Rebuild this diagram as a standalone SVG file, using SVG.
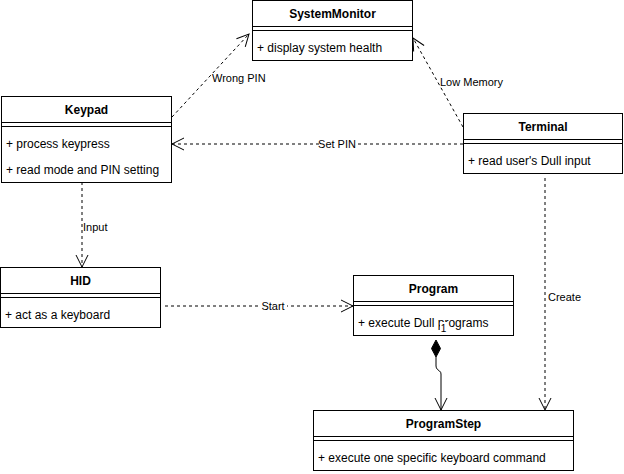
<svg xmlns="http://www.w3.org/2000/svg" width="624" height="474" viewBox="0 0 624 474">
<style>
.box{fill:#fff;stroke:#000;stroke-width:1}
.sep{stroke:#000;stroke-width:1}
.t{font-family:"Liberation Sans",Arial,sans-serif;font-size:12px;font-weight:bold;text-anchor:middle;fill:#000}
.a{font-family:"Liberation Sans",Arial,sans-serif;font-size:12px;fill:#000}
.l{font-family:"Liberation Sans",Arial,sans-serif;font-size:11px;fill:#000}
.dash{fill:none;stroke:#000;stroke-width:1;stroke-dasharray:3 3;marker-end:url(#open)}
.solid{fill:none;stroke:#000;stroke-width:1;marker-end:url(#open)}
</style>
<defs>
<marker id="open" markerUnits="userSpaceOnUse" markerWidth="14" markerHeight="14" refX="12" refY="6" orient="auto" overflow="visible">
<path d="M0,0 L12,6 L0,12" fill="none" stroke="#000" stroke-width="1" stroke-dasharray="none"/>
</marker>
</defs>
<rect width="624" height="474" fill="#fff"/>
<g id="connectors">
<path class="dash" d="M172,117 L249,34"/>
<text class="l" x="212" y="82">Wrong PIN</text>
<path class="dash" d="M463,127 L413,38"/>
<text class="l" x="440" y="86">Low Memory</text>
<path class="dash" d="M463,144 L172,144"/>
<rect x="319" y="138" width="36" height="12" fill="#fff"/>
<text class="l" x="337" y="148" text-anchor="middle">Set PIN</text>
<path class="dash" d="M82,182 L82,267"/>
<text class="l" x="83" y="231">Input</text>
<path class="dash" d="M165,306 L353,306"/>
<rect x="259" y="300" width="28" height="12" fill="#fff"/>
<text class="l" x="273" y="310" text-anchor="middle">Start</text>
<path class="dash" d="M545,178 L545,410"/>
<text class="l" x="548" y="301">Create</text>
<path class="solid" d="M436,357 L436,366 Q436,368 437.5,369.5 L439.5,371 Q441,372 441,374 L441,410"/>
<polygon points="436,340 440.5,348.5 436,357 431.5,348.5" fill="#000" stroke="#000" stroke-width="1"/>
</g>
<g id="SystemMonitor">
<rect class="box" x="252.5" y="0.5" width="160" height="60"/>
<line class="sep" x1="252.5" y1="26.5" x2="412.5" y2="26.5"/>
<line class="sep" x1="252.5" y1="30.5" x2="412.5" y2="30.5"/>
<text class="t" x="332.5" y="18">SystemMonitor</text>
<text class="a" x="257" y="52">+ display system health</text>
</g>
<g id="Keypad">
<rect class="box" x="1.5" y="96.5" width="170" height="86"/>
<line class="sep" x1="1.5" y1="122.5" x2="171.5" y2="122.5"/>
<line class="sep" x1="1.5" y1="126.5" x2="171.5" y2="126.5"/>
<text class="t" x="86.5" y="114">Keypad</text>
<text class="a" x="6" y="148">+ process keypress</text>
<text class="a" x="6" y="174">+ read mode and PIN setting</text>
</g>
<g id="Terminal">
<rect class="box" x="463.5" y="113.5" width="159" height="60"/>
<line class="sep" x1="463.5" y1="139.5" x2="622.5" y2="139.5"/>
<line class="sep" x1="463.5" y1="143.5" x2="622.5" y2="143.5"/>
<text class="t" x="543" y="131">Terminal</text>
<text class="a" x="468" y="165">+ read user's Dull input</text>
</g>
<g id="HID">
<rect class="box" x="0.5" y="267.5" width="160" height="60"/>
<line class="sep" x1="0.5" y1="293.5" x2="160.5" y2="293.5"/>
<line class="sep" x1="0.5" y1="297.5" x2="160.5" y2="297.5"/>
<text class="t" x="80.5" y="285">HID</text>
<text class="a" x="5" y="319">+ act as a keyboard</text>
</g>
<g id="Program">
<rect class="box" x="353.5" y="275.5" width="160" height="60"/>
<line class="sep" x1="353.5" y1="301.5" x2="513.5" y2="301.5"/>
<line class="sep" x1="353.5" y1="305.5" x2="513.5" y2="305.5"/>
<text class="t" x="433.5" y="293">Program</text>
<text class="a" x="358" y="327">+ execute Dull programs</text>
<rect x="440" y="322" width="7" height="11" fill="#fff"/>
<text class="l" x="443.5" y="332" text-anchor="middle" style="font-size:10px">1</text>
</g>
<g id="ProgramStep">
<rect class="box" x="313.5" y="410.5" width="260" height="60"/>
<line class="sep" x1="313.5" y1="436.5" x2="573.5" y2="436.5"/>
<line class="sep" x1="313.5" y1="440.5" x2="573.5" y2="440.5"/>
<text class="t" x="443.5" y="428">ProgramStep</text>
<text class="a" x="318" y="462">+ execute one specific keyboard command</text>
</g>
</svg>
